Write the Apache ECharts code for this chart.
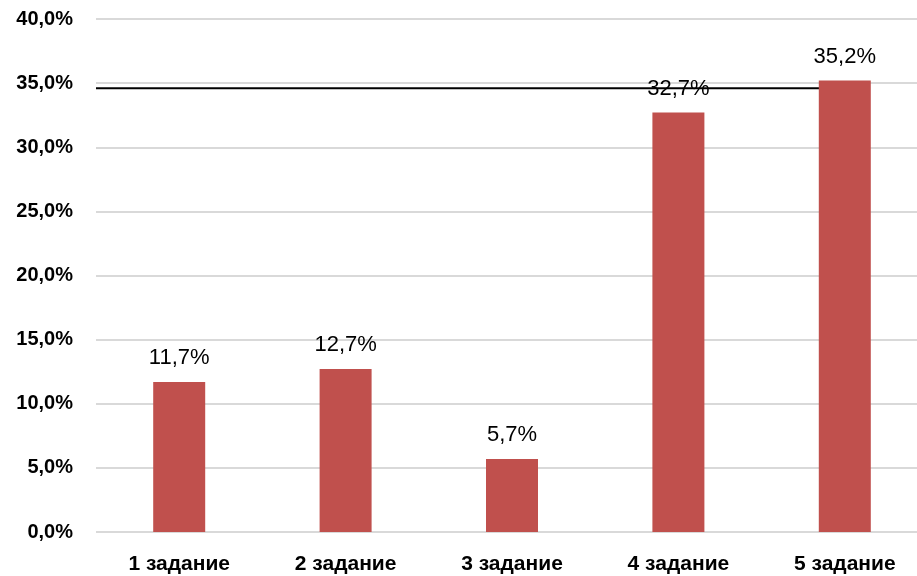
<!DOCTYPE html>
<html>
<head>
<meta charset="utf-8">
<script src="https://cdn.jsdelivr.net/npm/echarts@6/dist/echarts.min.js"></script>
<style>
  html, body { margin: 0; padding: 0; background: #fff; }
  #chart { width: 917px; height: 576px; }
</style>
</head>
<body>
<div id="chart"></div>
<script>
// Share of results per task, percent
const categories = ['1 задание', '2 задание', '3 задание', '4 задание', '5 задание'];
const values = [11.7, 12.7, 5.7, 32.7, 35.2];
// Reference level drawn as a horizontal line across the tasks
const referenceLevel = 34.6;
const referenceSpan = [0, 4.5];
const yTicks = { min: 0, max: 40, interval: 5 };

const fmt = v => v.toFixed(1).replace('.', ',') + '%';
const font = '"Liberation Sans", Arial, sans-serif';

const chart = echarts.init(document.getElementById('chart'), null, { renderer: 'canvas' });
chart.setOption({
  animation: false,
  grid: {
    left: 96, width: 832, top: 19, bottom: 44,
    containLabel: false,
    outerBoundsMode: 'none'
  },
  xAxis: [
    {
      type: 'category',
      data: categories,
      axisLine: { show: false },
      axisTick: { show: false },
      axisLabel: {
        margin: 22,
        color: '#000',
        fontFamily: font,
        fontWeight: 'bold',
        fontSize: 21
      }
    },
    {
      type: 'value',
      min: 0,
      max: 5,
      show: false
    }
  ],
  yAxis: {
    type: 'value',
    min: yTicks.min,
    max: yTicks.max,
    interval: yTicks.interval,
    axisLine: { show: false },
    axisTick: { show: false },
    splitLine: { lineStyle: { color: '#d9d9d9', width: 2 } },
    axisLabel: {
      margin: 23,
      color: '#000',
      fontFamily: font,
      fontWeight: 'bold',
      fontSize: 20,
      formatter: v => fmt(v)
    }
  },
  series: [
    {
      type: 'line',
      xAxisIndex: 1,
      data: referenceSpan.map(x => [x, referenceLevel]),
      symbol: 'none',
      lineStyle: { color: '#000', width: 2 },
      z: 1,
      silent: true
    },
    {
      type: 'bar',
      xAxisIndex: 0,
      data: values,
      barWidth: 52,
      itemStyle: { color: '#c0504d' },
      z: 3,
      label: {
        show: true,
        position: 'top',
        distance: 13,
        color: '#000',
        fontFamily: font,
        fontSize: 22,
        formatter: p => fmt(p.value)
      }
    }
  ]
});
</script>
</body>
</html>
